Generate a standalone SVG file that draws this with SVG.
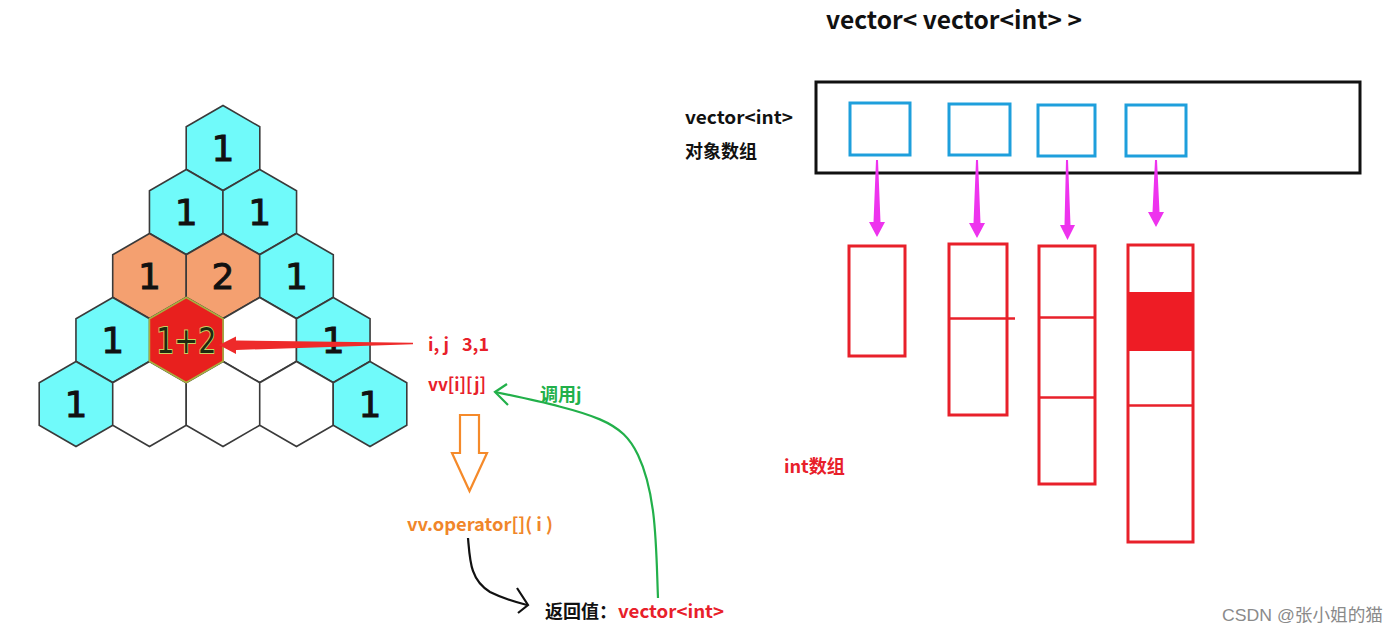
<svg xmlns="http://www.w3.org/2000/svg" width="1400" height="634" viewBox="0 0 1400 634">
<style>
.hex{stroke:#3a3a3a;stroke-width:1.6;stroke-linejoin:miter}
.cy{fill:#70FAFA}.or{fill:#F4A070}.wh{fill:#ffffff}
.num{font-family:"DejaVu Sans",sans-serif;font-size:36px;fill:#111;stroke:#111;stroke-width:0.9;text-anchor:middle}
.b{font-family:"Noto Sans CJK SC",sans-serif;font-weight:bold}
.red{fill:#E8202A}
.blk{fill:#111}
.blue{fill:none;stroke:#1E9FDC;stroke-width:3}
.rr{fill:none;stroke:#E8202A;stroke-width:3}
.mag{fill:#EE33EE}
</style>
<defs>
<polygon id="hex" points="0,-42.5 36.8,-21.25 36.8,21.25 0,42.5 -36.8,21.25 -36.8,-21.25"/>
</defs>
<rect width="1400" height="634" fill="#ffffff"/>

<g id="pyramid">
<g id="h00"><use href="#hex" class="hex cy" x="223" y="148"/><text class="num" x="223" y="161">1</text></g>
<g id="h10"><use href="#hex" class="hex cy" x="186.25" y="212"/><text class="num" x="186.25" y="225">1</text></g>
<g id="h11"><use href="#hex" class="hex cy" x="259.75" y="212"/><text class="num" x="259.75" y="225">1</text></g>
<g id="h20"><use href="#hex" class="hex or" x="149.5" y="276"/><text class="num" x="149.5" y="289">1</text></g>
<g id="h21"><use href="#hex" class="hex or" x="223" y="276"/><text class="num" x="223" y="289">2</text></g>
<g id="h22"><use href="#hex" class="hex cy" x="296.5" y="276"/><text class="num" x="296.5" y="289">1</text></g>
<g id="h30"><use href="#hex" class="hex cy" x="112.75" y="340"/><text class="num" x="112.75" y="353">1</text></g>
<g id="h32"><use href="#hex" class="hex wh" x="259.75" y="340"/></g>
<g id="h33"><use href="#hex" class="hex cy" x="333.25" y="340"/><text class="num" x="333.25" y="353">1</text></g>
<g id="h40"><use href="#hex" class="hex cy" x="76" y="404"/><text class="num" x="76" y="417">1</text></g>
<g id="h41"><use href="#hex" class="hex wh" x="149.5" y="404"/></g>
<g id="h42"><use href="#hex" class="hex wh" x="223" y="404"/></g>
<g id="h43"><use href="#hex" class="hex wh" x="296.5" y="404"/></g>
<g id="h44"><use href="#hex" class="hex cy" x="370" y="404"/><text class="num" x="370" y="417">1</text></g>
<g id="h31"><use href="#hex" x="186.25" y="340" fill="#E8201E" stroke="#A8B040" stroke-width="1.6"/><text x="186.25" y="353" font-family="DejaVu Sans,sans-serif" font-size="36" text-anchor="middle" textLength="60" lengthAdjust="spacingAndGlyphs" fill="#1E2A10" stroke="#C8D060" stroke-width="2" paint-order="stroke">1+2</text></g>
</g>

<g id="labels">
<text class="b red" x="428" y="351" font-size="18">i, j</text>
<text class="b red" x="462" y="351" font-size="18">3,1</text>
<text class="b red" x="428" y="391" font-size="18" textLength="58" lengthAdjust="spacingAndGlyphs">vv[i][j]</text>
<text class="b" x="540" y="401" font-size="18" fill="#22B04A">调用j</text>
<text class="b" x="407" y="531" font-size="18" fill="#F0862A" textLength="146" lengthAdjust="spacingAndGlyphs">vv.operator[]( i )</text>
<text class="b blk" x="545" y="618" font-size="18">返回值：</text>
<text class="b red" x="618" y="618" font-size="18" textLength="106" lengthAdjust="spacingAndGlyphs">vector&lt;int&gt;</text>
<text class="b blk" x="826" y="29" font-size="24" textLength="256" lengthAdjust="spacingAndGlyphs">vector&lt; vector&lt;int&gt; &gt;</text>
<text class="b blk" x="685" y="124" font-size="18" textLength="108" lengthAdjust="spacingAndGlyphs">vector&lt;int&gt;</text>
<text class="b blk" x="685" y="158" font-size="18">对象数组</text>
<text class="b red" x="784" y="473" font-size="18" textLength="61" lengthAdjust="spacingAndGlyphs">int数组</text>
<text x="1222" y="621" font-family="Liberation Sans,Noto Sans CJK SC,sans-serif" font-size="17" fill="#8a8a8a" textLength="161" lengthAdjust="spacingAndGlyphs">CSDN @张小姐的猫</text>
</g>

<g id="outer-vector">
<rect x="816" y="82" width="544" height="91" fill="none" stroke="#111" stroke-width="3"/>
<rect class="blue" x="850" y="103" width="60" height="52"/>
<rect class="blue" x="949" y="104" width="61" height="51"/>
<rect class="blue" x="1038" y="105" width="57" height="51"/>
<rect class="blue" x="1126" y="105" width="60" height="51"/>
</g>

<g id="int-arrays">
<g id="arr1"><rect class="rr" x="849" y="246" width="56" height="110"/></g>
<g id="arr2"><rect class="rr" x="949" y="244" width="58" height="171"/><line x1="949" y1="318.5" x2="1015" y2="318.5" stroke="#E8202A" stroke-width="2.5"/></g>
<g id="arr3"><rect class="rr" x="1039" y="246" width="56" height="238"/><line x1="1039" y1="317.5" x2="1095" y2="317.5" stroke="#E8202A" stroke-width="2.5"/><line x1="1039" y1="397.5" x2="1095" y2="397.5" stroke="#E8202A" stroke-width="2.5"/></g>
<g id="arr4"><rect class="rr" x="1128" y="245" width="65" height="297"/><rect x="1128" y="292" width="65" height="59" fill="#EE1C25"/><line x1="1128" y1="405.5" x2="1193" y2="405.5" stroke="#E8202A" stroke-width="2.5"/></g>
</g>

<g id="connectors">
<polygon fill="#EE2A2A" points="219,345 236,336.5 236,340.5 413,342.8 413,344.3 236,350 236,354"/>
<polygon points="460,415 479,415 479,453 487,453 469.5,491 452,453 460,453" fill="#ffffff" stroke="#F58A2A" stroke-width="2.2" stroke-linejoin="miter"/>
<path d="M468,538 C470,560 470,580 490,592 C502,598 515,602 527,605" fill="none" stroke="#111" stroke-width="2.2"/>
<polyline points="517,588 528,605 518,613" fill="none" stroke="#111" stroke-width="2.2"/>
<path d="M658,598 C656,550 657,495 638,455 C622,422 600,414 495,392" fill="none" stroke="#22B04A" stroke-width="2.2"/>
<polyline points="507,384 495,392 508,405" fill="none" stroke="#22B04A" stroke-width="2.2"/>
<polygon class="mag" points="876,160 878,160 880.5,222 885,222 877,237 869,222 873.5,222"/>
<polygon class="mag" points="976,160 978,160 980.5,223 985,223 977,238 969,223 973.5,223"/>
<polygon class="mag" points="1066,160 1068,160 1070.5,225 1075,225 1067.5,240 1060,225 1064.5,225"/>
<polygon class="mag" points="1155,160 1157,160 1159.5,212 1164,212 1156,227 1148,212 1152.5,212"/>
</g>
</svg>
